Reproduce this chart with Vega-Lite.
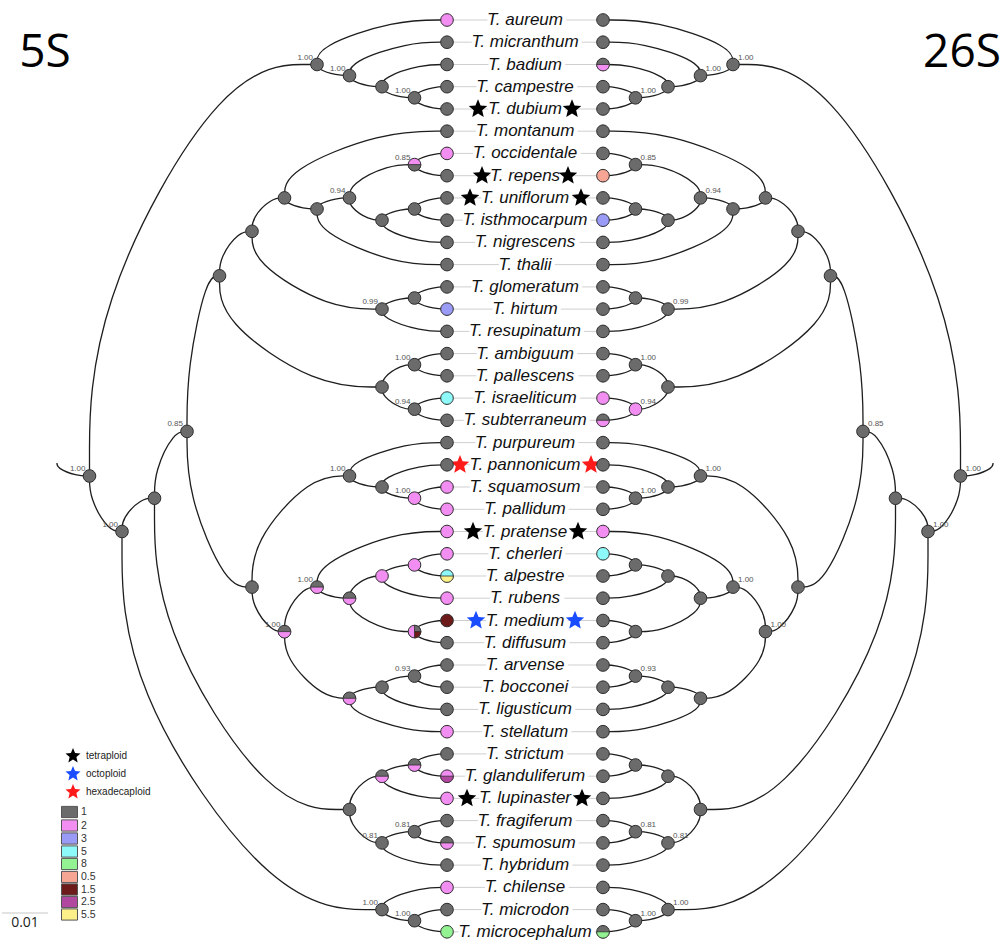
{
"$schema": "https://vega.github.io/schema/vega-lite/v6.json",
"width": 1003, "height": 940, "padding": 0, "autosize": {"type": "none"},
"background": "white",
"config": {"view": {"stroke": null}},
"resolve": {"scale": {"x": "independent"}},
"datasets": {
"edges": [
{"e":1,"o":0,"x":447,"y":86.7},{"e":1,"o":1,"x":434,"y":86.7},{"e":1,"o":2,"x":414.5,"y":93.4},{"e":1,"o":3,"x":414.5,"y":97.8},
{"e":2,"o":0,"x":447,"y":109},{"e":2,"o":1,"x":434,"y":109},{"e":2,"o":2,"x":414.5,"y":102.3},{"e":2,"o":3,"x":414.5,"y":97.8},
{"e":3,"o":0,"x":447,"y":64.5},{"e":3,"o":1,"x":421,"y":64.5},{"e":3,"o":2,"x":382,"y":77.8},{"e":3,"o":3,"x":382,"y":86.7},
{"e":4,"o":0,"x":414.5,"y":97.8},{"e":4,"o":1,"x":401.5,"y":97.8},{"e":4,"o":2,"x":382,"y":91.1},{"e":4,"o":3,"x":382,"y":86.7},
{"e":5,"o":0,"x":447,"y":42.2},{"e":5,"o":1,"x":408,"y":42.2},{"e":5,"o":2,"x":349.5,"y":62.2},{"e":5,"o":3,"x":349.5,"y":75.6},
{"e":6,"o":0,"x":382,"y":86.7},{"e":6,"o":1,"x":369,"y":86.7},{"e":6,"o":2,"x":349.5,"y":80},{"e":6,"o":3,"x":349.5,"y":75.6},
{"e":7,"o":0,"x":447,"y":20},{"e":7,"o":1,"x":395,"y":20},{"e":7,"o":2,"x":317,"y":46.7},{"e":7,"o":3,"x":317,"y":64.5},
{"e":8,"o":0,"x":349.5,"y":75.6},{"e":8,"o":1,"x":336.5,"y":75.6},{"e":8,"o":2,"x":317,"y":68.9},{"e":8,"o":3,"x":317,"y":64.5},
{"e":9,"o":0,"x":447,"y":153.4},{"e":9,"o":1,"x":434,"y":153.4},{"e":9,"o":2,"x":414.5,"y":160.1},{"e":9,"o":3,"x":414.5,"y":164.6},
{"e":10,"o":0,"x":447,"y":175.7},{"e":10,"o":1,"x":434,"y":175.7},{"e":10,"o":2,"x":414.5,"y":169},{"e":10,"o":3,"x":414.5,"y":164.6},
{"e":11,"o":0,"x":447,"y":197.9},{"e":11,"o":1,"x":434,"y":197.9},{"e":11,"o":2,"x":414.5,"y":204.6},{"e":11,"o":3,"x":414.5,"y":209},
{"e":12,"o":0,"x":447,"y":220.2},{"e":12,"o":1,"x":434,"y":220.2},{"e":12,"o":2,"x":414.5,"y":213.5},{"e":12,"o":3,"x":414.5,"y":209},
{"e":13,"o":0,"x":414.5,"y":209},{"e":13,"o":1,"x":401.5,"y":209},{"e":13,"o":2,"x":382,"y":215.7},{"e":13,"o":3,"x":382,"y":220.2},
{"e":14,"o":0,"x":447,"y":242.4},{"e":14,"o":1,"x":421,"y":242.4},{"e":14,"o":2,"x":382,"y":229.1},{"e":14,"o":3,"x":382,"y":220.2},
{"e":15,"o":0,"x":414.5,"y":164.6},{"e":15,"o":1,"x":388.5,"y":164.6},{"e":15,"o":2,"x":349.5,"y":184.6},{"e":15,"o":3,"x":349.5,"y":197.9},
{"e":16,"o":0,"x":382,"y":220.2},{"e":16,"o":1,"x":369,"y":220.2},{"e":16,"o":2,"x":349.5,"y":206.8},{"e":16,"o":3,"x":349.5,"y":197.9},
{"e":17,"o":0,"x":349.5,"y":197.9},{"e":17,"o":1,"x":336.5,"y":197.9},{"e":17,"o":2,"x":317,"y":204.6},{"e":17,"o":3,"x":317,"y":209},
{"e":18,"o":0,"x":447,"y":264.6},{"e":18,"o":1,"x":395,"y":264.6},{"e":18,"o":2,"x":317,"y":231.2},{"e":18,"o":3,"x":317,"y":209},
{"e":19,"o":0,"x":447,"y":131.2},{"e":19,"o":1,"x":382,"y":131.2},{"e":19,"o":2,"x":284.5,"y":171.2},{"e":19,"o":3,"x":284.5,"y":197.9},
{"e":20,"o":0,"x":317,"y":209},{"e":20,"o":1,"x":304,"y":209},{"e":20,"o":2,"x":284.5,"y":202.3},{"e":20,"o":3,"x":284.5,"y":197.9},
{"e":21,"o":0,"x":447,"y":286.9},{"e":21,"o":1,"x":434,"y":286.9},{"e":21,"o":2,"x":414.5,"y":293.6},{"e":21,"o":3,"x":414.5,"y":298},
{"e":22,"o":0,"x":447,"y":309.1},{"e":22,"o":1,"x":434,"y":309.1},{"e":22,"o":2,"x":414.5,"y":302.4},{"e":22,"o":3,"x":414.5,"y":298},
{"e":23,"o":0,"x":414.5,"y":298},{"e":23,"o":1,"x":401.5,"y":298},{"e":23,"o":2,"x":382,"y":304.7},{"e":23,"o":3,"x":382,"y":309.1},
{"e":24,"o":0,"x":447,"y":331.4},{"e":24,"o":1,"x":421,"y":331.4},{"e":24,"o":2,"x":382,"y":318},{"e":24,"o":3,"x":382,"y":309.1},
{"e":25,"o":0,"x":284.5,"y":197.9},{"e":25,"o":1,"x":271.5,"y":197.9},{"e":25,"o":2,"x":252,"y":217.9},{"e":25,"o":3,"x":252,"y":231.3},
{"e":26,"o":0,"x":382,"y":309.1},{"e":26,"o":1,"x":330,"y":309.1},{"e":26,"o":2,"x":252,"y":262.4},{"e":26,"o":3,"x":252,"y":231.3},
{"e":27,"o":0,"x":447,"y":353.6},{"e":27,"o":1,"x":434,"y":353.6},{"e":27,"o":2,"x":414.5,"y":360.3},{"e":27,"o":3,"x":414.5,"y":364.7},
{"e":28,"o":0,"x":447,"y":375.8},{"e":28,"o":1,"x":434,"y":375.8},{"e":28,"o":2,"x":414.5,"y":369.1},{"e":28,"o":3,"x":414.5,"y":364.7},
{"e":29,"o":0,"x":447,"y":398.1},{"e":29,"o":1,"x":434,"y":398.1},{"e":29,"o":2,"x":414.5,"y":404.8},{"e":29,"o":3,"x":414.5,"y":409.2},
{"e":30,"o":0,"x":447,"y":420.3},{"e":30,"o":1,"x":434,"y":420.3},{"e":30,"o":2,"x":414.5,"y":413.6},{"e":30,"o":3,"x":414.5,"y":409.2},
{"e":31,"o":0,"x":414.5,"y":364.7},{"e":31,"o":1,"x":401.5,"y":364.7},{"e":31,"o":2,"x":382,"y":378.1},{"e":31,"o":3,"x":382,"y":387},
{"e":32,"o":0,"x":414.5,"y":409.2},{"e":32,"o":1,"x":401.5,"y":409.2},{"e":32,"o":2,"x":382,"y":395.9},{"e":32,"o":3,"x":382,"y":387},
{"e":33,"o":0,"x":252,"y":231.3},{"e":33,"o":1,"x":239,"y":231.3},{"e":33,"o":2,"x":219.5,"y":258},{"e":33,"o":3,"x":219.5,"y":275.8},
{"e":34,"o":0,"x":382,"y":387},{"e":34,"o":1,"x":317,"y":387},{"e":34,"o":2,"x":219.5,"y":320.3},{"e":34,"o":3,"x":219.5,"y":275.8},
{"e":35,"o":0,"x":447,"y":487},{"e":35,"o":1,"x":434,"y":487},{"e":35,"o":2,"x":414.5,"y":493.7},{"e":35,"o":3,"x":414.5,"y":498.2},
{"e":36,"o":0,"x":447,"y":509.3},{"e":36,"o":1,"x":434,"y":509.3},{"e":36,"o":2,"x":414.5,"y":502.6},{"e":36,"o":3,"x":414.5,"y":498.2},
{"e":37,"o":0,"x":447,"y":464.8},{"e":37,"o":1,"x":421,"y":464.8},{"e":37,"o":2,"x":382,"y":478.1},{"e":37,"o":3,"x":382,"y":487},
{"e":38,"o":0,"x":414.5,"y":498.2},{"e":38,"o":1,"x":401.5,"y":498.2},{"e":38,"o":2,"x":382,"y":491.5},{"e":38,"o":3,"x":382,"y":487},
{"e":39,"o":0,"x":447,"y":442.6},{"e":39,"o":1,"x":408,"y":442.6},{"e":39,"o":2,"x":349.5,"y":462.6},{"e":39,"o":3,"x":349.5,"y":475.9},
{"e":40,"o":0,"x":382,"y":487},{"e":40,"o":1,"x":369,"y":487},{"e":40,"o":2,"x":349.5,"y":480.3},{"e":40,"o":3,"x":349.5,"y":475.9},
{"e":41,"o":0,"x":447,"y":553.8},{"e":41,"o":1,"x":434,"y":553.8},{"e":41,"o":2,"x":414.5,"y":560.5},{"e":41,"o":3,"x":414.5,"y":564.9},
{"e":42,"o":0,"x":447,"y":576},{"e":42,"o":1,"x":434,"y":576},{"e":42,"o":2,"x":414.5,"y":569.3},{"e":42,"o":3,"x":414.5,"y":564.9},
{"e":43,"o":0,"x":414.5,"y":564.9},{"e":43,"o":1,"x":401.5,"y":564.9},{"e":43,"o":2,"x":382,"y":571.6},{"e":43,"o":3,"x":382,"y":576},
{"e":44,"o":0,"x":447,"y":598.2},{"e":44,"o":1,"x":421,"y":598.2},{"e":44,"o":2,"x":382,"y":584.9},{"e":44,"o":3,"x":382,"y":576},
{"e":45,"o":0,"x":447,"y":620.5},{"e":45,"o":1,"x":434,"y":620.5},{"e":45,"o":2,"x":414.5,"y":627.2},{"e":45,"o":3,"x":414.5,"y":631.6},
{"e":46,"o":0,"x":447,"y":642.7},{"e":46,"o":1,"x":434,"y":642.7},{"e":46,"o":2,"x":414.5,"y":636},{"e":46,"o":3,"x":414.5,"y":631.6},
{"e":47,"o":0,"x":382,"y":576},{"e":47,"o":1,"x":369,"y":576},{"e":47,"o":2,"x":349.5,"y":589.3},{"e":47,"o":3,"x":349.5,"y":598.2},
{"e":48,"o":0,"x":414.5,"y":631.6},{"e":48,"o":1,"x":388.5,"y":631.6},{"e":48,"o":2,"x":349.5,"y":611.6},{"e":48,"o":3,"x":349.5,"y":598.2},
{"e":49,"o":0,"x":447,"y":531.5},{"e":49,"o":1,"x":395,"y":531.5},{"e":49,"o":2,"x":317,"y":564.9},{"e":49,"o":3,"x":317,"y":587.1},
{"e":50,"o":0,"x":349.5,"y":598.2},{"e":50,"o":1,"x":336.5,"y":598.2},{"e":50,"o":2,"x":317,"y":591.5},{"e":50,"o":3,"x":317,"y":587.1},
{"e":51,"o":0,"x":447,"y":665},{"e":51,"o":1,"x":434,"y":665},{"e":51,"o":2,"x":414.5,"y":671.7},{"e":51,"o":3,"x":414.5,"y":676.1},
{"e":52,"o":0,"x":447,"y":687.2},{"e":52,"o":1,"x":434,"y":687.2},{"e":52,"o":2,"x":414.5,"y":680.5},{"e":52,"o":3,"x":414.5,"y":676.1},
{"e":53,"o":0,"x":414.5,"y":676.1},{"e":53,"o":1,"x":401.5,"y":676.1},{"e":53,"o":2,"x":382,"y":682.8},{"e":53,"o":3,"x":382,"y":687.2},
{"e":54,"o":0,"x":447,"y":709.4},{"e":54,"o":1,"x":421,"y":709.4},{"e":54,"o":2,"x":382,"y":696.1},{"e":54,"o":3,"x":382,"y":687.2},
{"e":55,"o":0,"x":382,"y":687.2},{"e":55,"o":1,"x":369,"y":687.2},{"e":55,"o":2,"x":349.5,"y":693.9},{"e":55,"o":3,"x":349.5,"y":698.3},
{"e":56,"o":0,"x":447,"y":731.7},{"e":56,"o":1,"x":408,"y":731.7},{"e":56,"o":2,"x":349.5,"y":711.7},{"e":56,"o":3,"x":349.5,"y":698.3},
{"e":57,"o":0,"x":317,"y":587.1},{"e":57,"o":1,"x":304,"y":587.1},{"e":57,"o":2,"x":284.5,"y":613.8},{"e":57,"o":3,"x":284.5,"y":631.6},
{"e":58,"o":0,"x":349.5,"y":698.3},{"e":58,"o":1,"x":323.5,"y":698.3},{"e":58,"o":2,"x":284.5,"y":658.3},{"e":58,"o":3,"x":284.5,"y":631.6},
{"e":59,"o":0,"x":349.5,"y":475.9},{"e":59,"o":1,"x":310.5,"y":475.9},{"e":59,"o":2,"x":252,"y":542.6},{"e":59,"o":3,"x":252,"y":587.1},
{"e":60,"o":0,"x":284.5,"y":631.6},{"e":60,"o":1,"x":271.5,"y":631.6},{"e":60,"o":2,"x":252,"y":604.9},{"e":60,"o":3,"x":252,"y":587.1},
{"e":61,"o":0,"x":219.5,"y":275.8},{"e":61,"o":1,"x":206.5,"y":275.8},{"e":61,"o":2,"x":187,"y":369.2},{"e":61,"o":3,"x":187,"y":431.4},
{"e":62,"o":0,"x":252,"y":587.1},{"e":62,"o":1,"x":226,"y":587.1},{"e":62,"o":2,"x":187,"y":493.7},{"e":62,"o":3,"x":187,"y":431.4},
{"e":63,"o":0,"x":447,"y":753.9},{"e":63,"o":1,"x":434,"y":753.9},{"e":63,"o":2,"x":414.5,"y":760.6},{"e":63,"o":3,"x":414.5,"y":765},
{"e":64,"o":0,"x":447,"y":776.2},{"e":64,"o":1,"x":434,"y":776.2},{"e":64,"o":2,"x":414.5,"y":769.5},{"e":64,"o":3,"x":414.5,"y":765},
{"e":65,"o":0,"x":414.5,"y":765},{"e":65,"o":1,"x":401.5,"y":765},{"e":65,"o":2,"x":382,"y":771.7},{"e":65,"o":3,"x":382,"y":776.2},
{"e":66,"o":0,"x":447,"y":798.4},{"e":66,"o":1,"x":421,"y":798.4},{"e":66,"o":2,"x":382,"y":785.1},{"e":66,"o":3,"x":382,"y":776.2},
{"e":67,"o":0,"x":447,"y":820.6},{"e":67,"o":1,"x":434,"y":820.6},{"e":67,"o":2,"x":414.5,"y":827.3},{"e":67,"o":3,"x":414.5,"y":831.7},
{"e":68,"o":0,"x":447,"y":842.9},{"e":68,"o":1,"x":434,"y":842.9},{"e":68,"o":2,"x":414.5,"y":836.2},{"e":68,"o":3,"x":414.5,"y":831.7},
{"e":69,"o":0,"x":414.5,"y":831.7},{"e":69,"o":1,"x":401.5,"y":831.7},{"e":69,"o":2,"x":382,"y":838.4},{"e":69,"o":3,"x":382,"y":842.9},
{"e":70,"o":0,"x":447,"y":865.1},{"e":70,"o":1,"x":421,"y":865.1},{"e":70,"o":2,"x":382,"y":851.8},{"e":70,"o":3,"x":382,"y":842.9},
{"e":71,"o":0,"x":382,"y":776.2},{"e":71,"o":1,"x":369,"y":776.2},{"e":71,"o":2,"x":349.5,"y":796.2},{"e":71,"o":3,"x":349.5,"y":809.5},
{"e":72,"o":0,"x":382,"y":842.9},{"e":72,"o":1,"x":369,"y":842.9},{"e":72,"o":2,"x":349.5,"y":822.9},{"e":72,"o":3,"x":349.5,"y":809.5},
{"e":73,"o":0,"x":187,"y":431.4},{"e":73,"o":1,"x":174,"y":431.4},{"e":73,"o":2,"x":154.5,"y":471.5},{"e":73,"o":3,"x":154.5,"y":498.2},
{"e":74,"o":0,"x":349.5,"y":809.5},{"e":74,"o":1,"x":271.5,"y":809.5},{"e":74,"o":2,"x":154.5,"y":622.7},{"e":74,"o":3,"x":154.5,"y":498.2},
{"e":75,"o":0,"x":447,"y":909.6},{"e":75,"o":1,"x":434,"y":909.6},{"e":75,"o":2,"x":414.5,"y":916.3},{"e":75,"o":3,"x":414.5,"y":920.7},
{"e":76,"o":0,"x":447,"y":931.8},{"e":76,"o":1,"x":434,"y":931.8},{"e":76,"o":2,"x":414.5,"y":925.1},{"e":76,"o":3,"x":414.5,"y":920.7},
{"e":77,"o":0,"x":447,"y":887.4},{"e":77,"o":1,"x":421,"y":887.4},{"e":77,"o":2,"x":382,"y":900.7},{"e":77,"o":3,"x":382,"y":909.6},
{"e":78,"o":0,"x":414.5,"y":920.7},{"e":78,"o":1,"x":401.5,"y":920.7},{"e":78,"o":2,"x":382,"y":914},{"e":78,"o":3,"x":382,"y":909.6},
{"e":79,"o":0,"x":154.5,"y":498.2},{"e":79,"o":1,"x":141.5,"y":498.2},{"e":79,"o":2,"x":122,"y":518.2},{"e":79,"o":3,"x":122,"y":531.5},
{"e":80,"o":0,"x":382,"y":909.6},{"e":80,"o":1,"x":278,"y":909.6},{"e":80,"o":2,"x":122,"y":682.7},{"e":80,"o":3,"x":122,"y":531.5},
{"e":81,"o":0,"x":317,"y":64.5},{"e":81,"o":1,"x":226,"y":64.5},{"e":81,"o":2,"x":89.5,"y":311.4},{"e":81,"o":3,"x":89.5,"y":476},
{"e":82,"o":0,"x":122,"y":531.5},{"e":82,"o":1,"x":109,"y":531.5},{"e":82,"o":2,"x":89.5,"y":498.2},{"e":82,"o":3,"x":89.5,"y":476},
{"e":83,"o":0,"x":89.5,"y":476},{"e":83,"o":1,"x":76.5,"y":476},{"e":83,"o":2,"x":57,"y":468.2},{"e":83,"o":3,"x":57,"y":463}
],
"nodes": [
{"n":"T. aureum","x":447,"y":20,"cl":"2","cr":"1"},
{"n":"T. micranthum","x":447,"y":42.2,"cl":"1","cr":"1"},
{"n":"T. badium","x":447,"y":64.5,"cl":"1","cr":"1","cr2":"2"},
{"n":"T. campestre","x":447,"y":86.7,"cl":"1","cr":"1"},
{"n":"T. dubium","x":447,"y":109,"cl":"1","cr":"1"},
{"n":"T. montanum","x":447,"y":131.2,"cl":"1","cr":"1"},
{"n":"T. occidentale","x":447,"y":153.4,"cl":"2","cr":"1"},
{"n":"T. repens","x":447,"y":175.7,"cl":"1","cr":"0.5"},
{"n":"T. uniflorum","x":447,"y":197.9,"cl":"1","cr":"1"},
{"n":"T. isthmocarpum","x":447,"y":220.2,"cl":"1","cr":"3"},
{"n":"T. nigrescens","x":447,"y":242.4,"cl":"1","cr":"1"},
{"n":"T. thalii","x":447,"y":264.6,"cl":"1","cr":"1"},
{"n":"T. glomeratum","x":447,"y":286.9,"cl":"1","cr":"1"},
{"n":"T. hirtum","x":447,"y":309.1,"cl":"3","cr":"1"},
{"n":"T. resupinatum","x":447,"y":331.4,"cl":"1","cr":"1"},
{"n":"T. ambiguum","x":447,"y":353.6,"cl":"1","cr":"1"},
{"n":"T. pallescens","x":447,"y":375.8,"cl":"1","cr":"1"},
{"n":"T. israeliticum","x":447,"y":398.1,"cl":"5","cr":"2"},
{"n":"T. subterraneum","x":447,"y":420.3,"cl":"1","cr":"1","cr2":"2"},
{"n":"T. purpureum","x":447,"y":442.6,"cl":"1","cr":"1"},
{"n":"T. pannonicum","x":447,"y":464.8,"cl":"1","cr":"1"},
{"n":"T. squamosum","x":447,"y":487,"cl":"2","cr":"1"},
{"n":"T. pallidum","x":447,"y":509.3,"cl":"2","cr":"1"},
{"n":"T. pratense","x":447,"y":531.5,"cl":"2","cr":"2"},
{"n":"T. cherleri","x":447,"y":553.8,"cl":"2","cr":"5"},
{"n":"T. alpestre","x":447,"y":576,"cl":"5","cl2":"5.5","cr":"1"},
{"n":"T. rubens","x":447,"y":598.2,"cl":"2","cr":"1"},
{"n":"T. medium","x":447,"y":620.5,"cl":"1.5","cr":"1"},
{"n":"T. diffusum","x":447,"y":642.7,"cl":"1","cr":"1"},
{"n":"T. arvense","x":447,"y":665,"cl":"1","cr":"1"},
{"n":"T. bocconei","x":447,"y":687.2,"cl":"1","cr":"1"},
{"n":"T. ligusticum","x":447,"y":709.4,"cl":"1","cr":"1"},
{"n":"T. stellatum","x":447,"y":731.7,"cl":"2","cr":"1"},
{"n":"T. strictum","x":447,"y":753.9,"cl":"1","cr":"1"},
{"n":"T. glanduliferum","x":447,"y":776.2,"cl":"2","cl2":"2.5","cr":"1"},
{"n":"T. lupinaster","x":447,"y":798.4,"cl":"2","cr":"1"},
{"n":"T. fragiferum","x":447,"y":820.6,"cl":"1","cr":"1"},
{"n":"T. spumosum","x":447,"y":842.9,"cl":"1","cl2":"2","cr":"1"},
{"n":"T. hybridum","x":447,"y":865.1,"cl":"1","cr":"1"},
{"n":"T. chilense","x":447,"y":887.4,"cl":"2","cr":"1"},
{"n":"T. microdon","x":447,"y":909.6,"cl":"1","cr":"1"},
{"n":"T. microcephalum","x":447,"y":931.8,"cl":"8","cr":"1","cr2":"8"},
{"x":414.5,"y":97.8,"cl":"1","cr":"1","s":"1.00"},
{"x":382,"y":86.7,"cl":"1","cr":"1"},
{"x":349.5,"y":75.6,"cl":"1","cr":"1","s":"1.00"},
{"x":317,"y":64.5,"cl":"1","cr":"1","s":"1.00"},
{"x":414.5,"y":164.6,"cl":"2","cl2":"1","cr":"1","s":"0.85"},
{"x":414.5,"y":209,"cl":"1","cr":"1"},
{"x":382,"y":220.2,"cl":"1","cr":"1"},
{"x":349.5,"y":197.9,"cl":"1","cr":"1","s":"0.94"},
{"x":317,"y":209,"cl":"1","cr":"1"},
{"x":284.5,"y":197.9,"cl":"1","cr":"1"},
{"x":414.5,"y":298,"cl":"1","cr":"1"},
{"x":382,"y":309.1,"cl":"1","cr":"1","s":"0.99"},
{"x":252,"y":231.3,"cl":"1","cr":"1"},
{"x":414.5,"y":364.7,"cl":"1","cr":"1","s":"1.00"},
{"x":414.5,"y":409.2,"cl":"1","cr":"2","s":"0.94"},
{"x":382,"y":387,"cl":"1","cr":"1"},
{"x":219.5,"y":275.8,"cl":"1","cr":"1"},
{"x":414.5,"y":498.2,"cl":"2","cr":"1","s":"1.00"},
{"x":382,"y":487,"cl":"1","cr":"1"},
{"x":349.5,"y":475.9,"cl":"1","cr":"1","s":"1.00"},
{"x":414.5,"y":564.9,"cl":"2","cr":"1"},
{"x":382,"y":576,"cl":"2","cr":"1"},
{"x":414.5,"y":631.6,"cl":"2","q1":"1","q4":"1.5","cr":"1"},
{"x":349.5,"y":598.2,"cl":"1","cl2":"2","cr":"1"},
{"x":317,"y":587.1,"cl":"1","cl2":"2","cr":"1","s":"1.00"},
{"x":414.5,"y":676.1,"cl":"1","cr":"1","s":"0.93"},
{"x":382,"y":687.2,"cl":"1","cr":"1"},
{"x":349.5,"y":698.3,"cl":"1","cl2":"2","cr":"1"},
{"x":284.5,"y":631.6,"cl":"1","cl2":"2","cr":"1","s":"1.00"},
{"x":252,"y":587.1,"cl":"1","cr":"1"},
{"x":187,"y":431.4,"cl":"1","cr":"1","s":"0.85"},
{"x":414.5,"y":765,"cl":"1","cl2":"2","cr":"1"},
{"x":382,"y":776.2,"cl":"1","cl2":"2","cr":"1"},
{"x":414.5,"y":831.7,"cl":"1","cr":"1","s":"0.81"},
{"x":382,"y":842.9,"cl":"1","cr":"1","s":"0.81"},
{"x":349.5,"y":809.5,"cl":"1","cr":"1"},
{"x":154.5,"y":498.2,"cl":"1","cr":"1"},
{"x":414.5,"y":920.7,"cl":"1","cr":"1","s":"1.00"},
{"x":382,"y":909.6,"cl":"1","cr":"1","s":"1.00"},
{"x":122,"y":531.5,"cl":"1","cr":"1","s":"1.00"},
{"x":89.5,"y":476,"cl":"1","cr":"1","s":"1.00"}
],
"stars": [
{"p":"tetraploid","x":478,"y":109},{"p":"tetraploid","x":572,"y":109},
{"p":"tetraploid","x":482,"y":175.7},{"p":"tetraploid","x":568,"y":175.7},
{"p":"tetraploid","x":470,"y":197.9},{"p":"tetraploid","x":581,"y":197.9},
{"p":"hexadecaploid","x":460,"y":464.8},{"p":"hexadecaploid","x":591,"y":464.8},
{"p":"tetraploid","x":473,"y":531.5},{"p":"tetraploid","x":578,"y":531.5},
{"p":"octoploid","x":476,"y":620.5},{"p":"octoploid","x":575,"y":620.5},
{"p":"tetraploid","x":467,"y":798.4},{"p":"tetraploid","x":582,"y":798.4}
],
"lgs": [{"p":"tetraploid","y":756},{"p":"octoploid","y":774},{"p":"hexadecaploid","y":792}],
"lgc": [{"k":"1","y":812},{"k":"2","y":825.5},{"k":"3","y":838.5},{"k":"5","y":851.5},{"k":"8","y":864},{"k":"0.5","y":877},{"k":"1.5","y":889.5},{"k":"2.5","y":902},{"k":"5.5","y":914.5}],
"titles": [{"t":"5S","x":45,"y":67},{"t":"26S","x":962,"y":67}],
"bar": [{"x":2,"x2":48,"y":913,"t":"0.01"}]
},
"layer": [
{"data":{"name":"nodes"},"transform":[{"filter":"isValid(datum.n)"}],
 "mark":{"type":"rule","stroke":"#cfcfcf","strokeWidth":1},
 "encoding":{"x":{"datum":447,"type":"quantitative","scale":{"domain":[0,1003],"nice":false,"zero":false},"axis":null},"x2":{"datum":603},
  "y":{"field":"y","type":"quantitative","scale":{"domain":[0,940],"reverse":true,"nice":false,"zero":false},"axis":null}}},
{"data":{"name":"edges"},"mark":{"type":"line","interpolate":"basis","stroke":"#1e1e1e","strokeWidth":1.3},
 "encoding":{"x":{"field":"x","type":"quantitative","scale":{"domain":[0,1003],"nice":false,"zero":false},"axis":null},
  "y":{"field":"y","type":"quantitative","scale":{"domain":[0,940],"reverse":true,"nice":false,"zero":false},"axis":null},
  "detail":{"field":"e"},"order":{"field":"o"}}},
{"data":{"name":"edges"},"mark":{"type":"line","interpolate":"basis","stroke":"#1e1e1e","strokeWidth":1.3},
 "encoding":{"x":{"field":"x","type":"quantitative","scale":{"domain":[47,1050],"reverse":true,"nice":false,"zero":false},"axis":null},
  "y":{"field":"y","type":"quantitative","scale":{"domain":[0,940],"reverse":true,"nice":false,"zero":false},"axis":null},
  "detail":{"field":"e"},"order":{"field":"o"}}},
{"data":{"name":"nodes"},"transform":[{"filter":"isValid(datum.n)"}],
 "mark":{"type":"text","font":"Liberation Sans","fontStyle":"italic","fontSize":17,"align":"center","baseline":"middle","fill":"white","stroke":"white","strokeWidth":8},
 "encoding":{"x":{"datum":525,"type":"quantitative","scale":{"domain":[0,1003],"nice":false,"zero":false},"axis":null},
  "y":{"field":"y","type":"quantitative","scale":{"domain":[0,940],"reverse":true,"nice":false,"zero":false},"axis":null},"text":{"field":"n"}}},
{"data":{"name":"nodes"},"transform":[{"filter":"isValid(datum.n)"}],
 "mark":{"type":"text","font":"Liberation Sans","fontStyle":"italic","fontSize":17,"align":"center","baseline":"middle","fill":"#111"},
 "encoding":{"x":{"datum":525,"type":"quantitative","scale":{"domain":[0,1003],"nice":false,"zero":false},"axis":null},
  "y":{"field":"y","type":"quantitative","scale":{"domain":[0,940],"reverse":true,"nice":false,"zero":false},"axis":null},"text":{"field":"n"}}},
{"data":{"name":"stars"},
 "mark":{"type":"point","shape":"M0,-1L0.264,-0.364L0.951,-0.309L0.428,0.139L0.588,0.809L0,0.45L-0.588,0.809L-0.428,0.139L-0.951,-0.309L-0.264,-0.364Z","filled":true,"size":380,"opacity":1,"strokeWidth":0},
 "encoding":{"x":{"field":"x","type":"quantitative","scale":{"domain":[0,1003],"nice":false,"zero":false},"axis":null},
  "y":{"field":"y","type":"quantitative","scale":{"domain":[0,940],"reverse":true,"nice":false,"zero":false},"axis":null},
  "color":{"field":"p","type":"nominal","scale":{"domain":["tetraploid","octoploid","hexadecaploid"],"range":["#000000","#1a4dff","#ff1a1a"]},"legend":null}}},
{"data":{"name":"nodes"},
 "mark":{"type":"point","shape":"circle","filled":true,"size":160,"opacity":1,"stroke":"#2e2e2e","strokeWidth":1},
 "encoding":{"x":{"field":"x","type":"quantitative","scale":{"domain":[0,1003],"nice":false,"zero":false},"axis":null},
  "y":{"field":"y","type":"quantitative","scale":{"domain":[0,940],"reverse":true,"nice":false,"zero":false},"axis":null},
  "fill":{"field":"cl","type":"nominal","scale":{"domain":["1","2","3","5","8","0.5","1.5","2.5","5.5"],"range":["#6b6b6b","#f28ef2","#9a9af7","#8ef9f9","#93f393","#f6a493","#6d1a1a","#b0489f","#fbf08a"]},"legend":null}}},
{"data":{"name":"nodes"},"transform":[{"filter":"isValid(datum.cl2)"}],
 "mark":{"type":"point","shape":"M-1 0 A1 1 0 0 0 1 0 Z","filled":true,"size":160,"opacity":1,"stroke":"#2e2e2e","strokeWidth":0.8},
 "encoding":{"x":{"field":"x","type":"quantitative","scale":{"domain":[0,1003],"nice":false,"zero":false},"axis":null},
  "y":{"field":"y","type":"quantitative","scale":{"domain":[0,940],"reverse":true,"nice":false,"zero":false},"axis":null},
  "fill":{"field":"cl2","type":"nominal","scale":{"domain":["1","2","3","5","8","0.5","1.5","2.5","5.5"],"range":["#6b6b6b","#f28ef2","#9a9af7","#8ef9f9","#93f393","#f6a493","#6d1a1a","#b0489f","#fbf08a"]},"legend":null}}},
{"data":{"name":"nodes"},"transform":[{"filter":"isValid(datum.q1)"}],
 "mark":{"type":"point","shape":"M0 0 L0 -1 A1 1 0 0 1 1 0 Z","filled":true,"size":160,"opacity":1,"stroke":"#2e2e2e","strokeWidth":0.8},
 "encoding":{"x":{"field":"x","type":"quantitative","scale":{"domain":[0,1003],"nice":false,"zero":false},"axis":null},
  "y":{"field":"y","type":"quantitative","scale":{"domain":[0,940],"reverse":true,"nice":false,"zero":false},"axis":null},
  "fill":{"field":"q1","type":"nominal","scale":{"domain":["1","2","3","5","8","0.5","1.5","2.5","5.5"],"range":["#6b6b6b","#f28ef2","#9a9af7","#8ef9f9","#93f393","#f6a493","#6d1a1a","#b0489f","#fbf08a"]},"legend":null}}},
{"data":{"name":"nodes"},"transform":[{"filter":"isValid(datum.q4)"}],
 "mark":{"type":"point","shape":"M0 0 L1 0 A1 1 0 0 1 0 1 Z","filled":true,"size":160,"opacity":1,"stroke":"#2e2e2e","strokeWidth":0.8},
 "encoding":{"x":{"field":"x","type":"quantitative","scale":{"domain":[0,1003],"nice":false,"zero":false},"axis":null},
  "y":{"field":"y","type":"quantitative","scale":{"domain":[0,940],"reverse":true,"nice":false,"zero":false},"axis":null},
  "fill":{"field":"q4","type":"nominal","scale":{"domain":["1","2","3","5","8","0.5","1.5","2.5","5.5"],"range":["#6b6b6b","#f28ef2","#9a9af7","#8ef9f9","#93f393","#f6a493","#6d1a1a","#b0489f","#fbf08a"]},"legend":null}}},
{"data":{"name":"nodes"},
 "mark":{"type":"point","shape":"circle","filled":true,"size":160,"opacity":1,"stroke":"#2e2e2e","strokeWidth":1},
 "encoding":{"x":{"field":"x","type":"quantitative","scale":{"domain":[47,1050],"reverse":true,"nice":false,"zero":false},"axis":null},
  "y":{"field":"y","type":"quantitative","scale":{"domain":[0,940],"reverse":true,"nice":false,"zero":false},"axis":null},
  "fill":{"field":"cr","type":"nominal","scale":{"domain":["1","2","3","5","8","0.5","1.5","2.5","5.5"],"range":["#6b6b6b","#f28ef2","#9a9af7","#8ef9f9","#93f393","#f6a493","#6d1a1a","#b0489f","#fbf08a"]},"legend":null}}},
{"data":{"name":"nodes"},"transform":[{"filter":"isValid(datum.cr2)"}],
 "mark":{"type":"point","shape":"M-1 0 A1 1 0 0 0 1 0 Z","filled":true,"size":160,"opacity":1,"stroke":"#2e2e2e","strokeWidth":0.8},
 "encoding":{"x":{"field":"x","type":"quantitative","scale":{"domain":[47,1050],"reverse":true,"nice":false,"zero":false},"axis":null},
  "y":{"field":"y","type":"quantitative","scale":{"domain":[0,940],"reverse":true,"nice":false,"zero":false},"axis":null},
  "fill":{"field":"cr2","type":"nominal","scale":{"domain":["1","2","3","5","8","0.5","1.5","2.5","5.5"],"range":["#6b6b6b","#f28ef2","#9a9af7","#8ef9f9","#93f393","#f6a493","#6d1a1a","#b0489f","#fbf08a"]},"legend":null}}},
{"data":{"name":"nodes"},"transform":[{"filter":"isValid(datum.s)"}],
 "mark":{"type":"text","align":"right","baseline":"middle","dx":-4,"dy":-7,"fontSize":8,"font":"Liberation Sans","fill":"#555"},
 "encoding":{"x":{"field":"x","type":"quantitative","scale":{"domain":[0,1003],"nice":false,"zero":false},"axis":null},
  "y":{"field":"y","type":"quantitative","scale":{"domain":[0,940],"reverse":true,"nice":false,"zero":false},"axis":null},"text":{"field":"s"}}},
{"data":{"name":"nodes"},"transform":[{"filter":"isValid(datum.s)"}],
 "mark":{"type":"text","align":"left","baseline":"middle","dx":5,"dy":-7,"fontSize":8,"font":"Liberation Sans","fill":"#555"},
 "encoding":{"x":{"field":"x","type":"quantitative","scale":{"domain":[47,1050],"reverse":true,"nice":false,"zero":false},"axis":null},
  "y":{"field":"y","type":"quantitative","scale":{"domain":[0,940],"reverse":true,"nice":false,"zero":false},"axis":null},"text":{"field":"s"}}},
{"data":{"name":"titles"},
 "mark":{"type":"text","align":"center","baseline":"alphabetic","fontSize":46,"font":"Open Sans","fill":"#000"},
 "encoding":{"x":{"field":"x","type":"quantitative","scale":{"domain":[0,1003],"nice":false,"zero":false},"axis":null},
  "y":{"field":"y","type":"quantitative","scale":{"domain":[0,940],"reverse":true,"nice":false,"zero":false},"axis":null},"text":{"field":"t"}}},
{"data":{"name":"lgs"},
 "mark":{"type":"point","shape":"M0,-1L0.264,-0.364L0.951,-0.309L0.428,0.139L0.588,0.809L0,0.45L-0.588,0.809L-0.428,0.139L-0.951,-0.309L-0.264,-0.364Z","filled":true,"size":250,"opacity":1,"strokeWidth":0},
 "encoding":{"x":{"datum":73,"type":"quantitative","scale":{"domain":[0,1003],"nice":false,"zero":false},"axis":null},
  "y":{"field":"y","type":"quantitative","scale":{"domain":[0,940],"reverse":true,"nice":false,"zero":false},"axis":null},
  "color":{"field":"p","type":"nominal","scale":{"domain":["tetraploid","octoploid","hexadecaploid"],"range":["#000000","#1a4dff","#ff1a1a"]},"legend":null}}},
{"data":{"name":"lgs"},
 "mark":{"type":"text","align":"left","baseline":"middle","fontSize":10,"font":"Liberation Sans","fill":"#222"},
 "encoding":{"x":{"datum":86,"type":"quantitative","scale":{"domain":[0,1003],"nice":false,"zero":false},"axis":null},
  "y":{"field":"y","type":"quantitative","scale":{"domain":[0,940],"reverse":true,"nice":false,"zero":false},"axis":null},"text":{"field":"p"}}},
{"data":{"name":"lgc"},
 "mark":{"type":"point","shape":"M-1,-0.7L1,-0.7L1,0.7L-1,0.7Z","filled":true,"size":256,"opacity":1,"stroke":"#555","strokeWidth":1},
 "encoding":{"x":{"datum":69.5,"type":"quantitative","scale":{"domain":[0,1003],"nice":false,"zero":false},"axis":null},
  "y":{"field":"y","type":"quantitative","scale":{"domain":[0,940],"reverse":true,"nice":false,"zero":false},"axis":null},
  "fill":{"field":"k","type":"nominal","scale":{"domain":["1","2","3","5","8","0.5","1.5","2.5","5.5"],"range":["#6b6b6b","#f28ef2","#9a9af7","#8ef9f9","#93f393","#f6a493","#6d1a1a","#b0489f","#fbf08a"]},"legend":null}}},
{"data":{"name":"lgc"},
 "mark":{"type":"text","align":"left","baseline":"middle","fontSize":10.5,"font":"Liberation Sans","fill":"#333"},
 "encoding":{"x":{"datum":81,"type":"quantitative","scale":{"domain":[0,1003],"nice":false,"zero":false},"axis":null},
  "y":{"field":"y","type":"quantitative","scale":{"domain":[0,940],"reverse":true,"nice":false,"zero":false},"axis":null},"text":{"field":"k"}}},
{"data":{"name":"bar"},
 "mark":{"type":"rule","stroke":"#c8c8c8","strokeWidth":1.2},
 "encoding":{"x":{"field":"x","type":"quantitative","scale":{"domain":[0,1003],"nice":false,"zero":false},"axis":null},"x2":{"field":"x2"},
  "y":{"field":"y","type":"quantitative","scale":{"domain":[0,940],"reverse":true,"nice":false,"zero":false},"axis":null}}},
{"data":{"name":"bar"},
 "mark":{"type":"text","align":"center","baseline":"alphabetic","dy":14,"fontSize":14,"font":"Open Sans","fill":"#222"},
 "encoding":{"x":{"datum":25,"type":"quantitative","scale":{"domain":[0,1003],"nice":false,"zero":false},"axis":null},
  "y":{"field":"y","type":"quantitative","scale":{"domain":[0,940],"reverse":true,"nice":false,"zero":false},"axis":null},"text":{"field":"t"}}}
]
}
